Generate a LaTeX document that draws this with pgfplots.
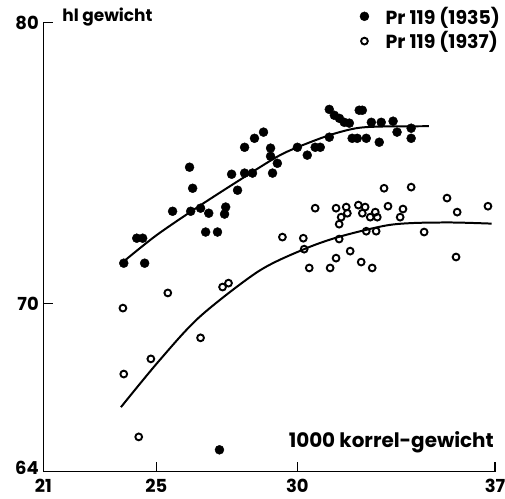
\documentclass[border=0pt]{standalone}
\usepackage{fontspec}
\setmainfont{Poppins}
\usepackage{pgfplots}
\pgfplotsset{compat=1.18}
\begin{document}
\begin{tikzpicture}[x=1bp,y=1bp]
\useasboundingbox (-43.3,-27.3) rectangle (461.7,471.7);
\begin{axis}[
  at={(0,0)}, anchor=south west,
  scale only axis, width=451.7bp, height=449bp,
  xmin=21, xmax=37, ymin=64, ymax=80,
  axis lines=left, axis line style={line width=1.6pt,-},
  xtick={21,25,30,37}, ytick={64,70,80},
  yticklabels={\raisebox{7bp}{64},70,80},
  tick align=inside, major tick length=10bp,
  tick style={line width=1.4pt,black},
  /pgf/number format/assume math mode=true,
  ticklabel style={font=\fontsize{18}{18}\selectfont\bfseries},
  xticklabel style={yshift=-4bp},
  yticklabel style={xshift=-1bp},
  clip=false,
  legend cell align=left,
  legend style={at={(0.699,1.04)}, anchor=north west, draw=none, fill=none,
    font=\fontsize{19}{19}\selectfont\bfseries, row sep=2bp,
    inner sep=0pt, nodes={inner sep=2bp}},
  legend image code/.code={\draw[#1] plot coordinates {(0bp,0bp)}; \path (-5bp,0) (19bp,0);},
]
\addplot[only marks, mark=*, mark size=4.5bp, black] coordinates {
(23.85,71.43)(24.59,71.43)(24.31,72.32)(24.52,72.32)(25.58,73.28)
(26.18,74.85)(26.29,74.10)(26.22,73.28)(26.57,73.39)(26.86,73.21)
(26.75,72.54)(27.17,72.54)(27.46,73.43)(27.42,73.18)(27.67,74.60)
(27.88,74.03)(28.13,74.64)(28.41,74.64)(28.13,75.56)(28.48,75.88)
(28.80,76.10)(29.05,75.53)(29.05,75.24)(29.29,74.99)(29.12,74.64)
(30.00,75.56)(30.35,75.28)(30.63,75.56)(30.81,75.56)(31.13,75.92)
(31.13,76.91)(31.31,76.70)(31.49,76.59)(31.66,76.45)(31.84,76.42)
(32.19,76.88)(32.30,76.88)(31.94,75.88)(32.12,75.88)(32.44,75.88)
(32.90,75.74)(32.62,76.45)(32.97,76.45)(33.39,76.49)(33.53,76.10)
(34.03,76.24)(34.03,75.88)(27.24,64.78)
};
\addlegendentry{Pr 119 (1935)}
\addplot[only marks, mark=o, mark size=3.4bp, mark options={line width=1.9pt}, black] coordinates {
(23.82,69.83)(25.41,70.37)(27.35,70.58)(27.56,70.72)(26.57,68.77)
(24.81,68.02)(23.85,67.48)(24.38,65.24)(29.47,72.36)(30.21,72.32)
(30.24,71.93)(30.63,73.39)(30.42,71.26)(31.16,71.26)(31.37,71.61)
(31.87,71.86)(32.26,71.47)(32.65,71.26)(31.48,72.29)(31.48,72.82)
(31.37,73.39)(31.73,73.43)(31.55,73.07)(31.77,73.21)(32.16,73.50)
(32.40,73.43)(32.30,73.21)(32.58,73.07)(32.76,73.25)(32.83,73.07)
(32.44,72.57)(32.79,72.57)(33.07,74.10)(34.03,74.14)(33.21,73.46)
(33.74,73.36)(33.64,73.07)(35.30,73.75)(35.66,73.25)(36.75,73.46)
(34.49,72.54)(35.62,71.65)
};
\addlegendentry{Pr 119 (1937)}
\addplot[smooth, line width=2pt, black, forget plot] coordinates {
(23.82,71.47)(25.0,72.42)(26.5,73.45)(27.95,74.39)(29.26,75.21)(30.00,75.56)
(31.13,75.99)(32.09,76.24)(33.0,76.30)(34.66,76.31)
};
\addplot[smooth, line width=2pt, black, forget plot] coordinates {
(23.75,66.30)(25.1,67.95)(26.54,69.52)(28.62,71.14)(30.24,71.93)
(31.48,72.37)(33.07,72.76)(34.07,72.86)(35.5,72.88)(36.88,72.84)
};
\node[anchor=west, font=\fontsize{17}{17}\selectfont\bfseries] at (axis cs:21.55,80.2) {hl gewicht};
\node[anchor=base east, font=\fontsize{20}{20}\selectfont\bfseries] at (axis cs:37.08,64.85) {1000 korrel-gewicht};
\end{axis}
\end{tikzpicture}
\end{document}
